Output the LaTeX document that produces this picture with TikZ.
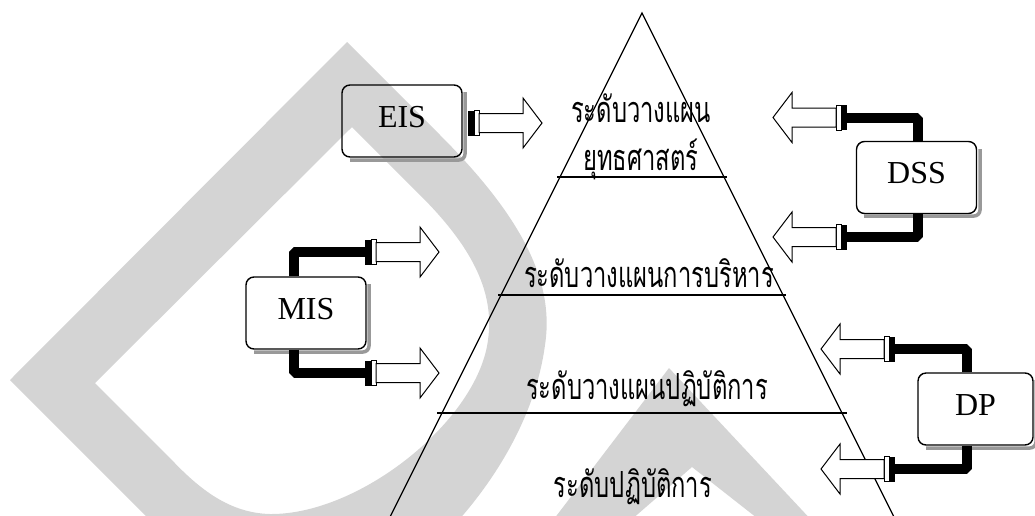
\documentclass[tikz,border=0pt]{standalone}
\usepackage{fontspec}
\setmainfont{Liberation Serif}
\newfontfamily\thaifont[Script=Thai,FakeStretch=0.66]{Loma}
\begin{document}
\begin{tikzpicture}[x=1pt,y=-1pt,
  wm/.style={fill=black!17,draw=none},
  tri/.style={line width=1.3pt},
  sysbox/.style={draw,line width=1.4pt,rounded corners=8pt,minimum width=120pt,minimum height=72pt,
     font=\fontsize{32}{32}\selectfont,text height=22pt,text depth=10pt,inner sep=0pt},
  shadowline/.style={line width=3.5pt,draw=black!40,rounded corners=6pt},
  lvl/.style={font=\thaifont\fontsize{36}{36}\selectfont,inner sep=0pt,anchor=base},
  conn/.style={line width=10pt,line join=bevel},
  plug/.pic={
    \fill (0,-12.5) rectangle (6,12.5);
    \draw[fill=white,line width=0.8pt] (6,-12.5) rectangle (11,12.5);
    \draw[fill=white,line width=1pt,line join=miter] (11,-9.5) -- (55,-9.5) -- (55,-25) -- (74,0) -- (55,25) -- (55,9.5) -- (11,9.5) -- cycle;
  }]
\useasboundingbox (0,0) rectangle (1035,515);
% watermark
\fill[wm,even odd rule]
  (170,540) -- (10,380) -- (347,42) -- (440,135)
  .. controls (520,215) and (555,280) .. (545,345)
  .. controls (535,420) and (490,490) .. (440,540) -- cycle
  (352,127) -- (420,195)
  .. controls (470,245) and (495,290) .. (488,340)
  .. controls (478,420) and (360,515) .. (270,514)
  .. controls (230,513) and (200,490) .. (170,458) -- (95,383) -- cycle;
\fill[wm] (538,540) -- (669,368) -- (830,540) -- (785,540) -- (692,467) -- (608,540) -- cycle;
% pyramid
\draw[tri] (388.5,520) -- (642,13) -- (895.5,520);
\draw[tri] (557,177) -- (727,177);
\draw[tri] (498,295) -- (786,295);
\draw[tri] (437,413) -- (847,413);
\node[lvl] (s1) at (641,122) {ระดับวางแผน};
\node[lvl] (s2) at (641,170) {ยุทธศาสตร์};
\node[lvl] (s3) at (649,287) {ระดับวางแผนการบริหาร};
\node[lvl] (s4) at (647,399) {ระดับวางแผนปฏิบัติการ};
\node[lvl] (s5) at (633,497) {ระดับปฏิบัติการ};
% shadows
\draw[shadowline] (465,92) -- (465,160) -- (350,160);
\draw[shadowline] (369,284) -- (369,352) -- (254,352);
\draw[shadowline] (980,149) -- (980,216) -- (864,216);
\draw[shadowline] (1036,380) -- (1036,448) -- (926,448);
% boxes
\node[sysbox] (eis) at (402,121) {EIS};
\node[sysbox] (mis) at (306,313) {MIS};
\node[sysbox] (dss) at (916.5,177.5) {DSS};
\node[sysbox,minimum width=115pt] (dp) at (975.5,409) {DP};
% connector end points
\coordinate (misA) at (365,252);
\coordinate (misB) at (365,373);
\coordinate (dssA) at (847,117.5);
\coordinate (dssB) at (847,237);
\coordinate (dpA) at (895,349);
\coordinate (dpB) at (895,469);
\draw[conn] ([xshift=-12pt]mis.north) |- (misA);
\draw[conn] ([xshift=-12pt]mis.south) |- (misB);
\draw[conn] ([xshift=1.5pt]dss.north) |- (dssA);
\draw[conn] ([xshift=1.5pt]dss.south) |- (dssB);
\draw[conn] ([xshift=-8.5pt]dp.north) |- (dpA);
\draw[conn] ([xshift=-8.5pt]dp.south) |- (dpB);
% arrows
\pic at (468,123) {plug};
\pic at (misA) {plug};
\pic at (misB) {plug};
\pic[xscale=-1] at (dssA) {plug};
\pic[xscale=-1] at (dssB) {plug};
\pic[xscale=-1] at (dpA) {plug};
\pic[xscale=-1] at (dpB) {plug};
\end{tikzpicture}
\end{document}
